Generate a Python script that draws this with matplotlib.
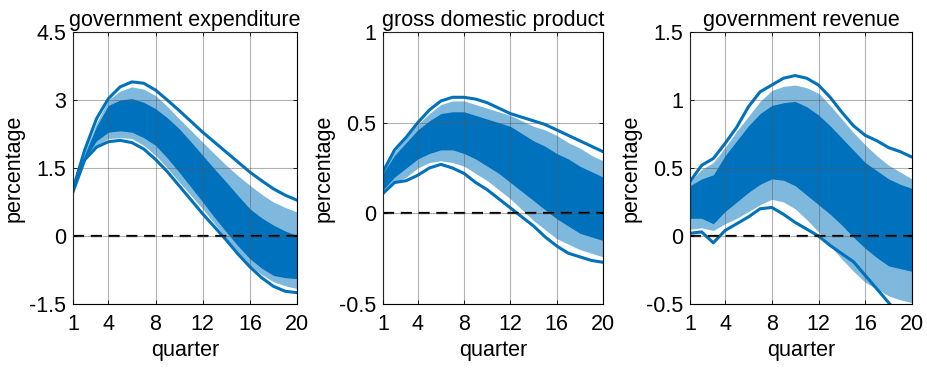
import matplotlib
matplotlib.use("Agg")
import matplotlib.pyplot as plt

plt.rcParams['font.family'] = ['Liberation Sans', 'DejaVu Sans']

BLUE = '#0072BD'

quarters = list(range(1, 21))
xticks = [1, 4, 8, 12, 16, 20]

# government expenditure: credible band and the spread of posterior draws
ge_upper = [1.04, 1.90, 2.59, 3.03, 3.29, 3.40, 3.37, 3.22, 3.00, 2.77, 2.53, 2.29,
            2.07, 1.85, 1.63, 1.41, 1.22, 1.04, 0.90, 0.79]
ge_lower = [0.97, 1.68, 1.96, 2.08, 2.11, 2.06, 1.92, 1.69, 1.42, 1.11, 0.80, 0.49,
            0.20, -0.09, -0.40, -0.68, -0.92, -1.11, -1.22, -1.25]
ge_outer_hi = [1.03, 1.85, 2.50, 3.00, 3.20, 3.29, 3.24, 3.10, 2.86, 2.59, 2.33, 2.07,
               1.81, 1.56, 1.33, 1.12, 0.92, 0.75, 0.63, 0.53]
ge_outer_lo = [0.98, 1.70, 2.00, 2.15, 2.17, 2.15, 2.00, 1.78, 1.50, 1.19, 0.90, 0.60,
               0.27, -0.06, -0.37, -0.65, -0.85, -1.01, -1.10, -1.16]
ge_dense_hi = [1.02, 1.80, 2.42, 2.88, 3.00, 3.03, 2.95, 2.81, 2.61, 2.37, 2.08, 1.78,
               1.48, 1.19, 0.89, 0.60, 0.40, 0.24, 0.11, 0.01]
ge_dense_lo = [0.99, 1.70, 2.10, 2.29, 2.32, 2.29, 2.17, 2.00, 1.72, 1.41, 1.08, 0.75,
               0.41, 0.09, -0.22, -0.50, -0.71, -0.87, -0.92, -0.94]

# gross domestic product
gdp_upper = [0.23, 0.35, 0.42, 0.50, 0.57, 0.62, 0.64, 0.64, 0.63, 0.61, 0.58, 0.55,
             0.53, 0.51, 0.49, 0.46, 0.43, 0.40, 0.37, 0.34]
gdp_lower = [0.11, 0.17, 0.18, 0.21, 0.25, 0.27, 0.25, 0.22, 0.17, 0.13, 0.08, 0.03,
             -0.02, -0.07, -0.13, -0.18, -0.22, -0.24, -0.26, -0.27]
gdp_outer_hi = [0.23, 0.34, 0.42, 0.49, 0.55, 0.60, 0.62, 0.62, 0.60, 0.58, 0.56, 0.54,
                0.51, 0.48, 0.46, 0.43, 0.39, 0.36, 0.32, 0.29]
gdp_outer_lo = [0.11, 0.17, 0.20, 0.25, 0.28, 0.29, 0.28, 0.26, 0.22, 0.18, 0.13, 0.08,
                0.02, -0.04, -0.09, -0.14, -0.17, -0.20, -0.22, -0.24]
gdp_dense_hi = [0.22, 0.32, 0.39, 0.46, 0.51, 0.55, 0.56, 0.56, 0.54, 0.52, 0.50, 0.48,
                0.44, 0.40, 0.37, 0.33, 0.30, 0.26, 0.23, 0.20]
gdp_dense_lo = [0.13, 0.20, 0.25, 0.30, 0.33, 0.35, 0.35, 0.33, 0.30, 0.26, 0.22, 0.17,
                0.12, 0.07, 0.02, -0.03, -0.07, -0.11, -0.13, -0.15]

# government revenue
gr_upper = [0.40, 0.52, 0.57, 0.68, 0.80, 0.95, 1.06, 1.11, 1.16, 1.18, 1.16, 1.11,
            1.02, 0.91, 0.81, 0.74, 0.70, 0.65, 0.62, 0.58]
gr_lower = [0.02, 0.03, -0.05, 0.04, 0.09, 0.14, 0.20, 0.21, 0.16, 0.10, 0.05, 0.00,
            -0.07, -0.13, -0.19, -0.29, -0.39, -0.49, -0.59, -0.69]
gr_outer_hi = [0.40, 0.49, 0.54, 0.65, 0.77, 0.88, 0.99, 1.07, 1.10, 1.11, 1.09, 1.05,
               0.96, 0.86, 0.76, 0.67, 0.59, 0.52, 0.47, 0.42]
gr_outer_lo = [0.05, 0.06, 0.04, 0.09, 0.13, 0.18, 0.23, 0.27, 0.25, 0.20, 0.12, 0.03,
               -0.07, -0.17, -0.26, -0.34, -0.39, -0.44, -0.47, -0.49]
gr_dense_hi = [0.37, 0.42, 0.45, 0.59, 0.70, 0.81, 0.90, 0.96, 0.98, 0.99, 0.95, 0.89,
               0.81, 0.72, 0.63, 0.54, 0.48, 0.42, 0.38, 0.35]
gr_dense_lo = [0.13, 0.13, 0.09, 0.18, 0.25, 0.32, 0.38, 0.42, 0.41, 0.37, 0.30, 0.23,
               0.16, 0.08, -0.01, -0.09, -0.16, -0.22, -0.24, -0.26]

panels = [
    ("government expenditure", ge_upper, ge_lower, ge_outer_hi, ge_outer_lo,
     ge_dense_hi, ge_dense_lo, (-1.5, 4.5), [-1.5, 0, 1.5, 3, 4.5],
     ['-1.5', '0', '1.5', '3', '4.5']),
    ("gross domestic product", gdp_upper, gdp_lower, gdp_outer_hi, gdp_outer_lo,
     gdp_dense_hi, gdp_dense_lo, (-0.5, 1.0), [-0.5, 0, 0.5, 1],
     ['-0.5', '0', '0.5', '1']),
    ("government revenue", gr_upper, gr_lower, gr_outer_hi, gr_outer_lo,
     gr_dense_hi, gr_dense_lo, (-0.5, 1.5), [-0.5, 0, 0.5, 1, 1.5],
     ['-0.5', '0', '0.5', '1', '1.5']),
]

fig = plt.figure(figsize=(9.27, 3.69), dpi=100)
lefts = [0.0787, 0.4132, 0.7443]
widths = [0.2417, 0.2373, 0.2395]

for i, (title, up, lo, ohi, olo, dhi, dlo, ylim, yt, ytl) in enumerate(panels):
    ax = fig.add_axes([lefts[i], 0.1762, widths[i], 0.737])
    # cloud of draws: faint outer spread, solid core
    ax.fill_between(quarters, olo, ohi, color=BLUE, alpha=0.5, lw=0)
    ax.fill_between(quarters, dlo, dhi, color=BLUE, alpha=1.0, lw=0)
    ax.plot(quarters, up, color=BLUE, lw=2.2, solid_capstyle='round')
    ax.plot(quarters, lo, color=BLUE, lw=2.2, solid_capstyle='round')
    ax.plot(quarters, [0] * len(quarters), color='black', lw=1.6, dashes=(5, 3))

    ax.set_xlim(1, 20)
    ax.set_ylim(*ylim)
    ax.set_xticks(xticks)
    ax.set_yticks(yt)
    ax.set_yticklabels(ytl)
    ax.grid(True, color='#555555', alpha=0.45, lw=0.8)
    ax.set_axisbelow(False)
    ax.tick_params(direction='in', length=3, labelsize=15.5, top=True, right=True,
                   width=0.6)
    ax.tick_params(axis='x', pad=7)
    ax.tick_params(axis='y', pad=5)
    for s in ax.spines.values():
        s.set_linewidth(0.8)
    ax.set_title(title, fontsize=15.5, pad=4)
    ax.set_xlabel('quarter', fontsize=15.5, labelpad=4)
    ax.set_ylabel('percentage', fontsize=15.5, labelpad=3)

fig.savefig('out.png', dpi=100)
